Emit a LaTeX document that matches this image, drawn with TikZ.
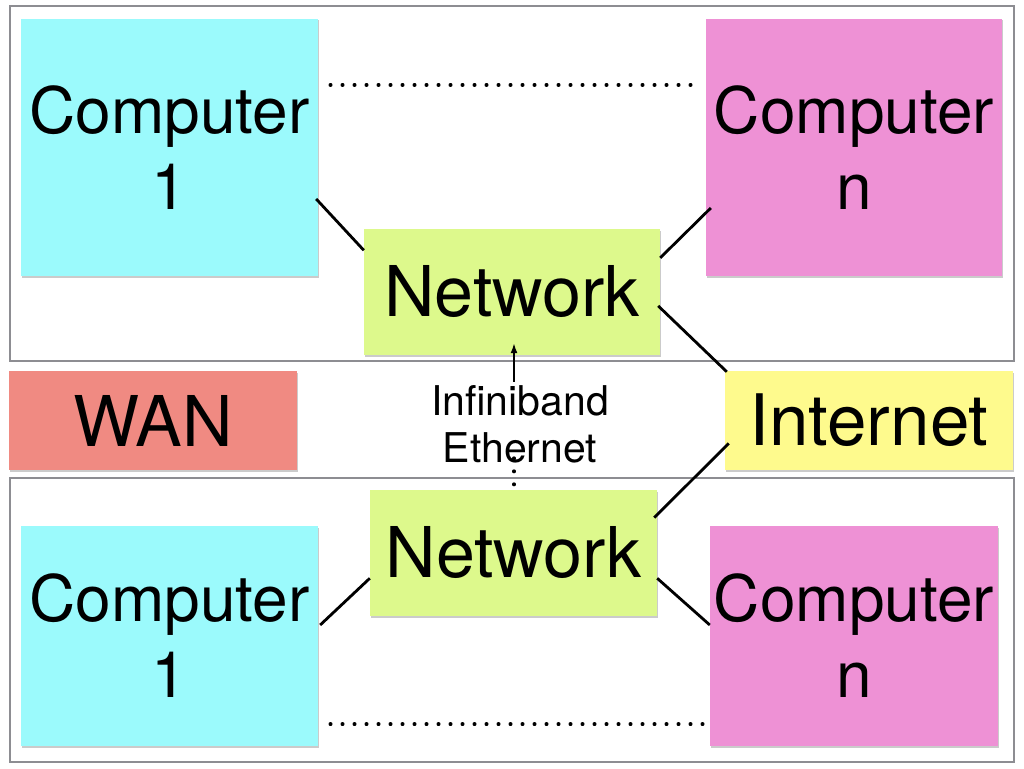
\documentclass[tikz,border=0pt]{standalone}
\usepackage{fontspec}
\setmainfont{TeX Gyre Heros}
\usetikzlibrary{calc,arrows.meta,shadows}
\definecolor{ccyan}{HTML}{9BFAFC}
\definecolor{cpink}{HTML}{EE91D5}
\definecolor{cgreen}{HTML}{DDF98C}
\definecolor{csalmon}{HTML}{F08A82}
\definecolor{cyellow}{HTML}{FEFA8D}
\definecolor{cframe}{HTML}{8D8D92}
\begin{document}
\begin{tikzpicture}[x=1pt,y=-1pt,
  box/.style={rectangle, inner sep=0pt, align=center,
    font=\fontsize{64}{76}\selectfont,
    drop shadow={shadow xshift=1pt, shadow yshift=-1.5pt, fill=black!40, opacity=0.5}},
  big/.style={font=\fontsize{70}{80}\selectfont},
  frame/.style={draw=cframe, line width=2pt},
  conn/.style={line width=2.8pt},
  dots/.style={line width=3.4pt, dash pattern=on 0.6pt off 11.4pt, line cap=round},
  arr/.style={line width=1.6pt, -{Latex[length=10pt,width=7pt]}}]
\useasboundingbox (0,0) rectangle (1024,768);
\fill[white] (0,0) rectangle (1024,768);
% frames
\draw[frame] (10,6) rectangle (1014,361);
\draw[frame] (10,478) rectangle (1014,762);
% boxes
\node[box, fill=ccyan, minimum width=297pt, minimum height=257pt] (c1t) at (169.5,147.5) {Computer\\1};
\node[box, fill=cpink, minimum width=296pt, minimum height=257pt] (cnt) at (854,147.5) {Computer\\n};
\node[box, big, fill=cgreen, minimum width=296pt, minimum height=126pt] (nt) at (512,292) {Network};
\node[box, big, fill=csalmon, minimum width=288pt, minimum height=99pt] (wan) at (153,420.5) {WAN};
\node[box, big, fill=cyellow, font=\fontsize{71}{80}\selectfont, minimum width=288pt, minimum height=99pt] (inet) at (869,420.5) {Internet};
\node[box, big, fill=cgreen, minimum width=287pt, minimum height=126pt] (nb) at (513.5,553) {Network};
\node[box, fill=ccyan, minimum width=297pt, minimum height=220pt] (c1b) at (169.5,636) {Computer\\1};
\node[box, fill=cpink, minimum width=288pt, minimum height=220pt] (cnb) at (854,636) {Computer\\n};
\node[inner sep=0pt, align=center, font=\fontsize{41}{47}\selectfont] (lbl) at (520,424) {Infiniband\\Ethernet};
% connectors
\draw[conn] ($(c1t.north east)!0.70!(c1t.south east)+(-2,0)$) -- ($(nt.north west)!0.17!(nt.south west)$);
\draw[conn] ($(nt.north east)!0.23!(nt.south east)$) -- ($(cnt.north west)!0.735!(cnt.south west)+(5,0)$);
\draw[conn] ($(nt.north east)!0.61!(nt.south east)+(-2,0)$) -- ($(inet.north west)+(2,1)$);
\draw[conn] ($(inet.north west)!0.73!(inet.south west)+(4,0)$) -- ($(nb.north east)!0.22!(nb.south east)+(-3,0)$);
\draw[conn] ($(nb.north west)!0.70!(nb.south west)$) -- ($(c1b.north east)!0.45!(c1b.south east)+(2,0)$);
\draw[conn] ($(nb.north east)!0.70!(nb.south east)$) -- ($(cnb.north west)!0.45!(cnb.south west)$);
% dotted lines
\draw[dots] ($(c1t.north east)!0.257!(c1t.south east)+(12,0)$) -- ($(cnt.north west)!0.257!(cnt.south west)+(-12,0)$);
\draw[dots] ($(c1b.north east)!0.90!(c1b.south east)+(12,0)$) -- ($(cnb.north west)!0.90!(cnb.south west)+(-2,0)$);
\draw[dots, dash pattern=on 0.6pt off 12.4pt] ($(lbl.south)+(-6,-5)$) -- ($(nb.north)+(0.5,-3)$);
% arrow
\draw[arr] ($(lbl.north)+(-6,-3)$) -- ($(nt.south)+(2,-12)$);
\end{tikzpicture}
\end{document}
